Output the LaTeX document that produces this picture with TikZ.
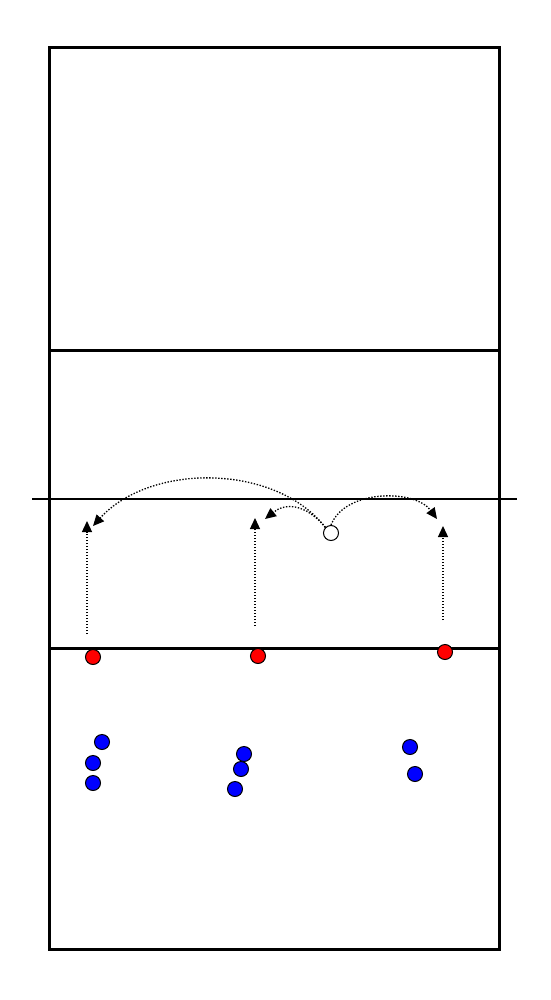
\documentclass[tikz,border=0pt]{standalone}
\usetikzlibrary{arrows.meta}
\begin{document}
\begin{tikzpicture}[x=1pt,y=-1pt,
  joueur/.style={circle,draw,line width=1pt,inner sep=0pt,minimum size=15pt},
  passe/.style={line width=1.3pt,dash pattern=on 1.4pt off 1.6pt,
    -{Triangle[length=11pt,width=10pt,sep=0pt]}}]
  \useasboundingbox (0,0) rectangle (550,1000);

  % Terrain
  \draw[line width=3pt] (49,48) rectangle (499,949);
  \draw[line width=3pt] (49,350) -- (499,350);
  \draw[line width=3pt] (49,648) -- (499,648);

  % Filet
  \draw[line width=2pt] (32,499) -- (517,499);

  % Joueurs rouges
  \node[joueur,fill=red] (r1) at (93,657) {};
  \node[joueur,fill=red] (r2) at (258,656) {};
  \node[joueur,fill=red] (r3) at (445,652) {};

  % Joueurs bleus
  \node[joueur,fill=blue] (b1) at (102,742) {};
  \node[joueur,fill=blue] (b2) at (93,763) {};
  \node[joueur,fill=blue] (b3) at (93,783) {};
  \node[joueur,fill=blue] (b4) at (244,754) {};
  \node[joueur,fill=blue] (b5) at (241,769) {};
  \node[joueur,fill=blue] (b6) at (235,789) {};
  \node[joueur,fill=blue] (b7) at (410,747) {};
  \node[joueur,fill=blue] (b8) at (415,774) {};

  % Ballon
  \node[joueur,fill=white] (ballon) at (331,533) {};

  % Déplacements
  \coordinate (d1) at (87,634);   \coordinate (a1) at (87,521);
  \coordinate (d2) at (255,626);  \coordinate (a2) at (255,518);
  \coordinate (d3) at (443,620);  \coordinate (a3) at (443,526);
  \draw[passe] (d1) -- (a1);
  \draw[passe] (d2) -- (a2);
  \draw[passe] (d3) -- (a3);

  % Passes du ballon
  \coordinate (p1) at (93,526);
  \coordinate (p2) at (265,519);
  \coordinate (p3) at (437,519);
  \draw[passe] (ballon.north west) .. controls (275,463) and (150,463) .. (p1);
  \draw[passe] (ballon.north west) .. controls (305,503) and (285,503) .. (p2);
  \draw[passe] (ballon.north) .. controls (345,489) and (415,489) .. (p3);
\end{tikzpicture}
\end{document}
